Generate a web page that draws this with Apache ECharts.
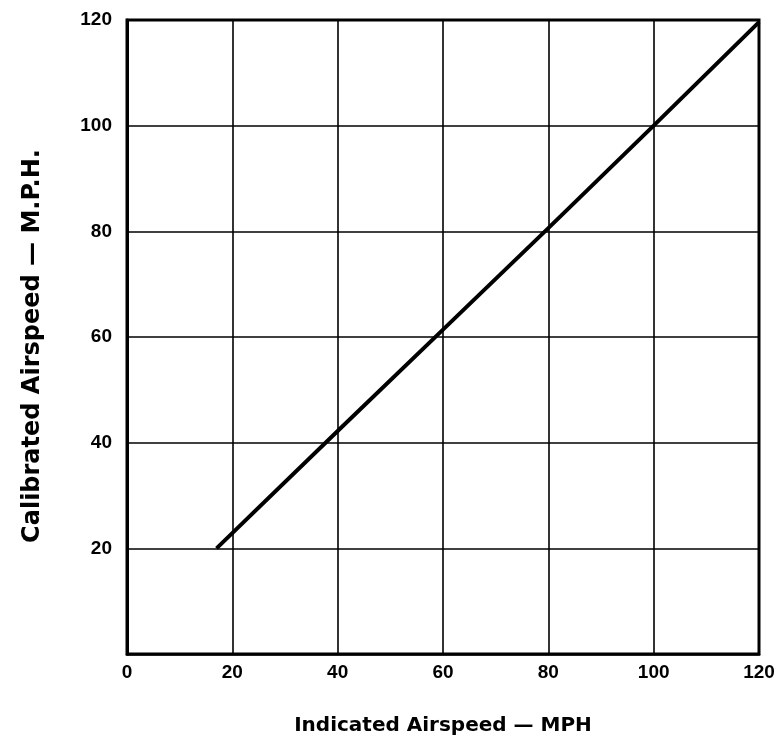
<!DOCTYPE html>
<html>
<head>
<meta charset="utf-8">
<script src="https://cdn.jsdelivr.net/npm/echarts@6/dist/echarts.min.js"></script>
<style>html,body{margin:0;padding:0;background:#fff}#c{width:779px;height:745px}</style>
</head>
<body>
<div id="c"></div>
<script>
const xTicks = [0, 20, 40, 60, 80, 100, 120];
const yTicks = [20, 40, 60, 80, 100, 120];
const indicated = [17, 40, 60, 80, 100, 120];
const calibrated = [20, 42.2, 61.4, 80.6, 100, 119.6];
const xTitle = 'Indicated Airspeed — MPH';
const yTitle = 'Calibrated Airspeed — M.P.H.';

const chart = echarts.init(document.getElementById('c'), null, {renderer: 'canvas'});
const font = '"Liberation Sans", Arial, sans-serif';
const titleFont = '"DejaVu Sans", sans-serif';
chart.setOption({
  animation: false,
  backgroundColor: '#fff',
  grid: {left: 127, right: 20, top: 20, bottom: 91, show: true, borderColor: '#000', borderWidth: 3, backgroundColor: 'transparent'},
  xAxis: {
    type: 'value', min: 0, max: 120, interval: 20,
    name: xTitle, nameLocation: 'middle', nameGap: 62,
    nameTextStyle: {color: '#000', fontFamily: titleFont, fontWeight: 'bold', fontSize: 20},
    axisLine: {show: true, lineStyle: {color: '#000', width: 2.5}},
    axisTick: {show: false},
    axisLabel: {color: '#000', fontFamily: font, fontWeight: 'bold', fontSize: 19, margin: 9,
      formatter: v => xTicks.includes(v) ? String(v) : ''},
    splitLine: {show: true, lineStyle: {color: '#000', width: 1.6}}
  },
  yAxis: {
    type: 'value', min: 0, max: 120, interval: 20,
    name: yTitle, nameLocation: 'middle', nameGap: 82,
    nameTextStyle: {color: '#000', fontFamily: titleFont, fontWeight: 'bold', fontSize: 24, padding: [0, 18, 0, 0]},
    axisLine: {show: true, lineStyle: {color: '#000', width: 3}},
    axisTick: {show: false},
    axisLabel: {color: '#000', fontFamily: font, fontWeight: 'bold', fontSize: 19, margin: 15,
      formatter: v => yTicks.includes(v) ? String(v) : ''},
    splitLine: {show: true, lineStyle: {color: '#000', width: 1.6}}
  },
  series: [{
    type: 'line',
    data: indicated.map((x, i) => [x, calibrated[i]]),
    showSymbol: false,
    lineStyle: {color: '#000', width: 4},
    clip: false
  }]
});
</script>
</body>
</html>
